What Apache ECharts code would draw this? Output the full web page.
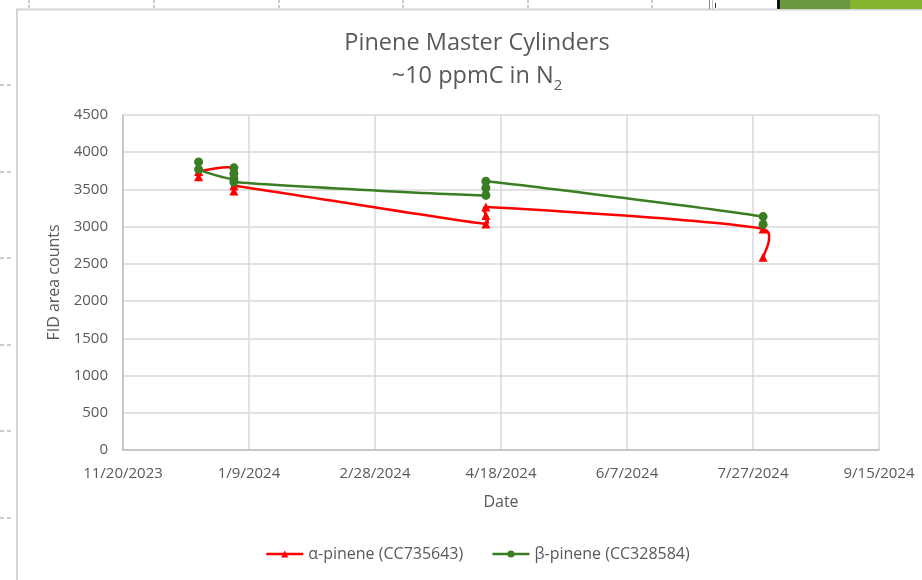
<!DOCTYPE html>
<html>
<head>
<meta charset="utf-8">
<script src="https://cdn.jsdelivr.net/npm/echarts@6/dist/echarts.min.js"></script>
<style>
html,body{margin:0;padding:0;background:#fff;}
#c{width:922px;height:580px;}
</style>
</head>
<body>
<div id="c"></div>
<script>
// Excel date serials (days since 1899-12-30)
const alphaDates  = [45280, 45280, 45294, 45294, 45294, 45394, 45394, 45394, 45504, 45504];
const alphaValues = [3670, 3740, 3785, 3480, 3550, 3035, 3150, 3265, 2970, 2590];
const betaDates   = [45280, 45280, 45294, 45294, 45294, 45294, 45394, 45394, 45394, 45504, 45504];
const betaValues  = [3870, 3770, 3640, 3790, 3710, 3600, 3420, 3520, 3610, 3135, 3030];
const seriesNames = ['α-pinene (CC735643)', 'β-pinene (CC328584)'];
const xMin = 45250, xMax = 45550, xStep = 50;
const yMin = 0, yMax = 4500, yStep = 500;

const RED = '#ff0000', GREEN = '#3a7d22';
function pairs(xs, ys){ return xs.map((x,i)=>[x, ys[i]]); }
function fmtDate(serial){
  const d = new Date(Date.UTC(1899,11,30) + Math.round(serial)*86400000);
  return (d.getUTCMonth()+1) + '/' + d.getUTCDate() + '/' + d.getUTCFullYear();
}
const txt = '#595959';
const FONT = '"Open Sans", sans-serif';

// Excel-style smoothed line (Bezier control points, tension 1/6 limited by segment length)
function excelPath(pts){
  const n = pts.length;
  const dist = (a,b)=>Math.hypot(a[0]-b[0], a[1]-b[1]);
  let d = 'M' + pts[0][0] + ',' + pts[0][1];
  for (let i = 0; i < n-1; i++){
    const p0 = pts[Math.max(i-1,0)], p1 = pts[i], p2 = pts[i+1], p3 = pts[Math.min(i+2,n-1)];
    const d02 = dist(p0,p2), d12 = dist(p1,p2), d13 = dist(p1,p3);
    let f1, f2;
    if (d12 === 0) { f1 = f2 = 0; }
    else if (d02/6 < d12/2 && d13/6 < d12/2) { f1 = f2 = 1/6; }
    else if (d02/6 >= d12/2 && d13/6 >= d12/2) { f1 = d12/2/d02; f2 = d12/2/d13; }
    else if (d02/6 >= d12/2) { f1 = d12/2/d02; f2 = d12/2/d02; }
    else { f1 = d12/2/d13; f2 = d12/2/d13; }
    const c1 = [p1[0] + f1*(p2[0]-p0[0]), p1[1] + f1*(p2[1]-p0[1])];
    const c2 = [p2[0] - f2*(p3[0]-p1[0]), p2[1] - f2*(p3[1]-p1[1])];
    d += ' C' + c1[0] + ',' + c1[1] + ' ' + c2[0] + ',' + c2[1] + ' ' + p2[0] + ',' + p2[1];
  }
  return d;
}
function curveSeries(name, xs, ys, color, z){
  return {
    type:'custom', name:name, coordinateSystem:'cartesian2d', silent:true, z:z,
    data: pairs(xs, ys), encode:{x:0, y:1},
    renderItem:(params, api)=>{
      if (params.dataIndex !== 0) return null;
      const pts = xs.map((x,i)=>api.coord([x, ys[i]]));
      return {type:'path', shape:{pathData: excelPath(pts)},
              style:{stroke:color, lineWidth:2.5, fill:'none', lineJoin:'round'}};
    }
  };
}

const chart = echarts.init(document.getElementById('c'), null, {renderer:'canvas'});
const deco = [];
deco.push({type:'rect', shape:{x:17, y:9.5, width:920, height:590}, style:{fill:'#fff', stroke:'#d4d4d4', lineWidth:2}, z:-10});
[85,172,258,345,431,518].forEach(y=>{
  deco.push({type:'line', shape:{x1:0,y1:y,x2:12,y2:y}, style:{stroke:'#9a9a9a', lineWidth:1, lineDash:[4,3]}, z:-5});
});
[29,154,279,403,528,652].forEach(x=>{
  deco.push({type:'line', shape:{x1:x,y1:0,x2:x,y2:8}, style:{stroke:'#9a9a9a', lineWidth:1, lineDash:[3,2]}, z:-5});
});
deco.push({type:'line', shape:{x1:709.5,y1:0,x2:709.5,y2:9}, style:{stroke:'#8a8a8a', lineWidth:1}, z:-5});
deco.push({type:'line', shape:{x1:712.5,y1:0,x2:712.5,y2:9}, style:{stroke:'#c0c0c0', lineWidth:1}, z:-5});
deco.push({type:'line', shape:{x1:715.5,y1:3,x2:715.5,y2:8}, style:{stroke:'#333', lineWidth:1}, z:-5});
deco.push({type:'rect', shape:{x:777, y:0, width:3, height:9}, style:{fill:'#111'}, z:-5});
deco.push({type:'rect', shape:{x:780, y:0, width:70, height:9}, style:{fill:'#6a9842'}, z:-5});
deco.push({type:'rect', shape:{x:850, y:0, width:72, height:9}, style:{fill:'#86b532'}, z:-5});

chart.setOption({
  animation:false,
  backgroundColor:'#fff',
  graphic: deco,
  title:{
    left:472, top:22, textAlign:'center',
    text:'{t|Pinene Master Cylinders}\n{t|~10 ppmC in N}{s|2}',
    textStyle:{
      fontWeight:'normal',
      rich:{
        t:{fontFamily:FONT, fontSize:23.5, fontWeight:'normal', color:txt, lineHeight:33},
        s:{fontFamily:FONT, fontSize:15, fontWeight:'normal', color:txt, lineHeight:18, verticalAlign:'bottom'}
      }
    }
  },
  grid:{left:123, right:43, top:115, bottom:130},
  legend:{
    bottom:13, left:260,
    itemWidth:37, itemHeight:9, itemGap:28,
    lineStyle:{width:2.5},
    textStyle:{fontFamily:FONT, fontSize:16, color:txt},
    data: seriesNames
  },
  xAxis:{
    type:'value', min:xMin, max:xMax, interval:xStep,
    name:'Date', nameLocation:'middle', nameGap:44,
    nameTextStyle:{fontFamily:FONT, fontSize:16, color:txt},
    axisLine:{show:true, lineStyle:{color:'#bfbfbf', width:1.5}},
    axisTick:{show:false},
    axisLabel:{formatter:fmtDate, fontFamily:FONT, fontSize:15, color:txt, margin:16},
    splitLine:{show:true, lineStyle:{color:'#d9d9d9', width:1.5}}
  },
  yAxis:{
    type:'value', min:yMin, max:yMax, interval:yStep,
    name:'FID area counts', nameLocation:'middle', nameGap:56,
    nameTextStyle:{fontFamily:FONT, fontSize:16, color:txt},
    axisLine:{show:true, lineStyle:{color:'#bfbfbf', width:1.5}},
    axisTick:{show:false},
    axisLabel:{formatter:(v)=>String(v), fontFamily:FONT, fontSize:15, color:txt, margin:15},
    splitLine:{show:true, lineStyle:{color:'#d9d9d9', width:1.5}}
  },
  series:[
    curveSeries('_curveAlpha', alphaDates, alphaValues, RED, 1),
    {
      name:seriesNames[0], type:'line',
      data:pairs(alphaDates, alphaValues),
      symbol:'triangle', symbolSize:9, showAllSymbol:true,
      lineStyle:{color:RED, width:0},
      itemStyle:{color:RED}, z:2
    },
    curveSeries('_curveBeta', betaDates, betaValues, GREEN, 3),
    {
      name:seriesNames[1], type:'line',
      data:pairs(betaDates, betaValues),
      symbol:'circle', symbolSize:9, showAllSymbol:true,
      lineStyle:{color:GREEN, width:0},
      itemStyle:{color:GREEN}, z:4
    }
  ]
});
</script>
</body>
</html>
